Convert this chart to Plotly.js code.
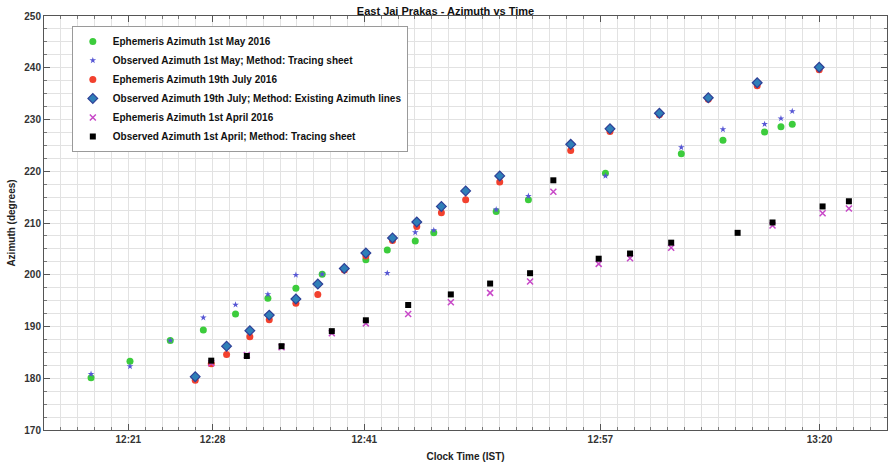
<!DOCTYPE html>
<html><head><meta charset="utf-8">
<script src="https://cdn.plot.ly/plotly-3.0.1.min.js"></script>
<style>html,body{margin:0;padding:0;background:#fff}</style>
</head><body><div id="chart" style="width:891px;height:464px"></div>
<script>
// Tick labels (axis is an index scale, labels are irregular clock times)
const tickPositions = [5, 10, 19, 33, 46];
const tickLabels = ['12:21', '12:28', '12:41', '12:57', '13:20'];

// Ephemeris Azimuth 1st May 2016
const mayEphX = [2.79, 5.10, 7.49, 9.45, 11.36, 13.28, 14.94, 16.50, 19.09, 20.36, 22.02, 23.12, 26.82, 28.73, 33.30, 37.80, 40.27, 42.74, 43.71, 44.38];
const mayEphY = [180.1, 183.3, 187.3, 189.3, 192.4, 195.45, 197.4, 200.1, 202.9, 204.8, 206.5, 208.1, 212.2, 214.5, 219.6, 223.4, 226.0, 227.6, 228.6, 229.1];

// Observed Azimuth 1st May (tracing sheet)
const mayObsX = [2.79, 5.10, 7.49, 9.45, 11.36, 13.28, 14.94, 16.50, 20.36, 22.02, 23.12, 26.82, 28.73, 33.30, 37.80, 40.27, 42.74, 43.71, 44.38];
const mayObsY = [180.8, 182.3, 187.3, 191.7, 194.2, 196.2, 199.95, 200.1, 200.3, 208.2, 208.6, 212.6, 215.2, 219.1, 224.6, 228.1, 229.1, 230.2, 231.6];

// Ephemeris Azimuth 19th July 2016
const julEphX = [8.97, 9.92, 10.83, 12.21, 13.36, 14.94, 16.24, 17.81, 19.09, 20.67, 22.11, 23.57, 25.01, 27.03, 31.24, 33.57, 36.50, 39.40, 42.30, 45.98];
const julEphY = [179.6, 182.8, 184.6, 188.0, 191.3, 194.5, 196.2, 200.9, 203.6, 206.6, 209.3, 212.0, 214.5, 217.9, 224.0, 227.7, 230.9, 233.9, 236.5, 239.6];

// Observed Azimuth 19th July (existing azimuth lines)
const julObsX = [8.97, 10.83, 12.21, 13.36, 14.94, 16.24, 17.81, 19.09, 20.67, 22.11, 23.57, 25.01, 27.03, 31.24, 33.57, 36.50, 39.40, 42.30, 45.98];
const julObsY = [180.3, 186.2, 189.2, 192.2, 195.3, 198.2, 201.2, 204.2, 207.1, 210.2, 213.2, 216.2, 219.1, 225.2, 228.2, 231.2, 234.2, 237.1, 240.1];

// Ephemeris Azimuth 1st April 2016
const aprEphX = [9.92, 12.03, 14.09, 17.07, 19.09, 21.60, 24.13, 26.46, 28.83, 30.21, 32.90, 34.76, 37.20, 43.21, 46.18, 47.74];
const aprEphY = [182.9, 184.5, 186.0, 188.7, 190.6, 192.4, 194.7, 196.5, 198.7, 216.05, 202.1, 203.2, 205.2, 209.5, 211.9, 212.8];

// Observed Azimuth 1st April (tracing sheet)
const aprObsX = [9.92, 12.03, 14.09, 17.07, 19.09, 21.60, 24.13, 26.46, 28.83, 30.21, 32.90, 34.76, 37.20, 41.14, 43.21, 46.18, 47.74];
const aprObsY = [183.4, 184.3, 186.2, 189.1, 191.2, 194.15, 196.2, 198.3, 200.3, 218.25, 203.1, 204.1, 206.2, 208.1, 210.1, 213.2, 214.2];

const traces = [
  {x: mayEphX, y: mayEphY, name: 'Ephemeris Azimuth 1st May 2016', mode: 'markers', type: 'scatter',
   marker: {symbol: 'circle', size: 7, color: '#3ccc3c'}},
  {x: mayObsX, y: mayObsY, name: 'Observed Azimuth 1st May; Method: Tracing sheet', mode: 'markers', type: 'scatter',
   marker: {symbol: 'star', size: 5, color: '#5656d4'}},
  {x: julEphX, y: julEphY, name: 'Ephemeris Azimuth 19th July 2016', mode: 'markers', type: 'scatter',
   marker: {symbol: 'circle', size: 7, color: '#f2412e'}},
  {x: julObsX, y: julObsY, name: 'Observed Azimuth 19th July; Method: Existing Azimuth lines', mode: 'markers', type: 'scatter',
   marker: {symbol: 'diamond', size: 7.5, color: '#2f7fb8', line: {color: '#2d3f96', width: 1.2}}},
  {x: aprEphX, y: aprEphY, name: 'Ephemeris Azimuth 1st April 2016', mode: 'markers', type: 'scatter',
   marker: {symbol: 'x-thin', size: 6, color: '#c848c8', line: {color: '#c848c8', width: 1.5}}},
  {x: aprObsX, y: aprObsY, name: 'Observed Azimuth 1st April; Method: Tracing sheet', mode: 'markers', type: 'scatter',
   marker: {symbol: 'square', size: 6, color: '#000000'}}
];

const grid = '#e2e2e2';
const layout = {
  width: 891, height: 464,
  margin: {l: 44, r: 4, t: 16, b: 34},
  paper_bgcolor: '#fff', plot_bgcolor: '#fff',
  font: {family: 'Liberation Sans, Arial, sans-serif', size: 10, color: '#222'},
  title: {text: 'East Jai Prakas - Azimuth vs Time', font: {size: 11, weight: 'bold', color: '#111'},
          x: 0.5, xanchor: 'center', y: 0.985, yanchor: 'top'},
  showlegend: true,
  legend: {x: 0.033, y: 0.976, xanchor: 'left', yanchor: 'top', bgcolor: '#fff',
           bordercolor: '#9a9a9a', borderwidth: 1, font: {size: 10, weight: 'bold', color: '#111'},
           tracegroupgap: 0, itemwidth: 30},
  xaxis: {range: [0, 50], tickmode: 'array', tickvals: tickPositions, ticktext: tickLabels,
          showgrid: true, gridcolor: grid, gridwidth: 1, zeroline: false,
          showline: true, linecolor: '#555', linewidth: 1, mirror: 'ticks',
          ticks: 'inside', ticklen: 6, tickcolor: '#555',
          tickfont: {size: 10, weight: 'bold', color: '#333'},
          minor: {dtick: 1, tick0: 0, showgrid: true, gridcolor: grid, ticks: 'inside', ticklen: 3, tickcolor: '#777'},
          title: {text: 'Clock Time (IST)', font: {size: 10, weight: 'bold', color: '#222'}, standoff: 8}},
  yaxis: {range: [170, 250], dtick: 10, tick0: 170,
          showgrid: true, gridcolor: grid, gridwidth: 1, zeroline: false,
          showline: true, linecolor: '#555', linewidth: 1, mirror: 'ticks',
          ticks: 'inside', ticklen: 6, tickcolor: '#555',
          tickfont: {size: 10, weight: 'bold', color: '#333'},
          minor: {dtick: 2.5, showgrid: true, gridcolor: grid, ticks: 'inside', ticklen: 3, tickcolor: '#777'},
          title: {text: 'Azimuth (degrees)', font: {size: 10, weight: 'bold', color: '#222'}, standoff: 6}}
};

Plotly.newPlot('chart', traces, layout, {displayModeBar: false, staticPlot: true});
</script></body></html>
